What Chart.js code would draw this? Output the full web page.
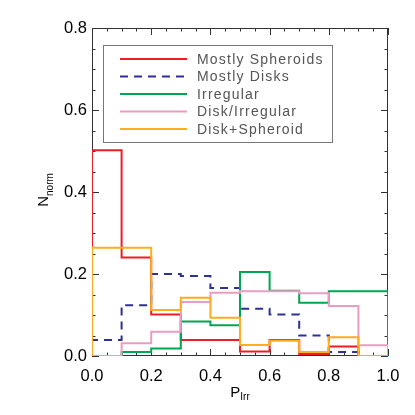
<!DOCTYPE html>
<html>
<head>
<meta charset="utf-8">
<script src="https://cdn.jsdelivr.net/npm/chart.js@4.4.0/dist/chart.umd.min.js"></script>
<style>
  html, body { margin: 0; padding: 0; background: #ffffff; }
  #wrap { width: 415px; height: 415px; }
</style>
</head>
<body>
<div id="wrap"><canvas id="c" width="415" height="415"></canvas></div>
<script>
// ---- data ----
const binEdges = [0.0, 0.1, 0.2, 0.3, 0.4, 0.5, 0.6, 0.7, 0.8, 0.9, 1.0];
const seriesNames = ['Mostly Spheroids', 'Mostly Disks', 'Irregular', 'Disk/Irregular', 'Disk+Spheroid'];
const mostlySpheroids = [0.502, 0.240, 0.101, 0.039, 0.039, 0.011, 0.039, 0.005, 0.023, 0.000];
const mostlyDisks     = [0.039, 0.124, 0.200, 0.195, 0.166, 0.115, 0.101, 0.050, 0.010, 0.000];
const irregular       = [0.000, 0.010, 0.018, 0.084, 0.075, 0.205, 0.159, 0.130, 0.158, 0.158];
const diskIrregular   = [0.000, 0.031, 0.059, 0.132, 0.154, 0.158, 0.158, 0.153, 0.122, 0.026];
const diskSpheroid    = [0.264, 0.264, 0.112, 0.142, 0.093, 0.027, 0.037, 0.010, 0.046, 0.000];
const xTickValues = [0.0, 0.2, 0.4, 0.6, 0.8, 1.0];
const yTickValues = [0.0, 0.2, 0.4, 0.6, 0.8];

const FONT = "'Liberation Sans', Arial, Helvetica, sans-serif";

// histogram outline: starts and ends at zero
function histPoints(vals) {
  const pts = [{ x: binEdges[0], y: 0 }];
  vals.forEach((v, i) => pts.push({ x: binEdges[i], y: v }));
  pts.push({ x: binEdges[binEdges.length - 1], y: vals[vals.length - 1] });
  pts.push({ x: binEdges[binEdges.length - 1], y: 0 });
  return pts;
}

const colors = ['#ee1c25', '#2e3192', '#00a651', '#ec9cc0', '#fdad1d'];
const seriesData = [mostlySpheroids, mostlyDisks, irregular, diskIrregular, diskSpheroid];
const dashes = [[], [8, 6], [], [], []];

const datasets = seriesData.map((vals, i) => ({
  label: seriesNames[i],
  data: histPoints(vals),
  borderColor: colors[i],
  borderWidth: 2,
  borderDash: dashes[i],
  stepped: 'before',
  pointRadius: 0,
  fill: false,
  order: seriesData.length - i
}));

const framePlugin = {
  id: 'frame',
  beforeDatasetsDraw(chart) {
    const { ctx, chartArea: a, scales } = chart;
    ctx.save();
    ctx.strokeStyle = '#333';
    ctx.lineWidth = 1;
    ctx.strokeRect(Math.round(a.left) + 0.5, Math.round(a.top) + 0.5,
                   Math.round(a.right - a.left) - 1, Math.round(a.bottom - a.top) - 1);
    ctx.beginPath();
    // x ticks every 0.05, major every 0.2
    for (let i = 0; i <= 20; i++) {
      const v = i * 0.05;
      const px = Math.round(scales.x.getPixelForValue(v)) + 0.5;
      const len = (i % 4 === 0) ? 7 : 3.5;
      ctx.moveTo(px, a.bottom); ctx.lineTo(px, a.bottom - len);
      ctx.moveTo(px, a.top); ctx.lineTo(px, a.top + len);
    }
    for (let i = 0; i <= 16; i++) {
      const v = i * 0.05;
      const py = Math.round(scales.y.getPixelForValue(v)) + 0.5;
      const len = (i % 4 === 0) ? 7 : 3.5;
      ctx.moveTo(a.left, py); ctx.lineTo(a.left + len, py);
      ctx.moveTo(a.right, py); ctx.lineTo(a.right - len, py);
    }
    ctx.stroke();

    // axis titles with subscripts
    ctx.fillStyle = '#000';
    ctx.textBaseline = 'alphabetic';
    // y title: N_norm rotated
    ctx.save();
    ctx.translate(48, (a.top + a.bottom) / 2 - 2);
    ctx.rotate(-Math.PI / 2);
    ctx.font = '15px ' + FONT;
    const wN = ctx.measureText('N').width;
    ctx.font = '10px ' + FONT;
    const wS = ctx.measureText('norm').width;
    const tot = wN + wS;
    ctx.font = '15px ' + FONT;
    ctx.textAlign = 'left';
    ctx.fillText('N', -tot / 2, 0);
    ctx.font = '10px ' + FONT;
    ctx.fillText('norm', -tot / 2 + wN, 4.5);
    ctx.restore();
    // x title: P_Irr
    ctx.save();
    ctx.font = '15px ' + FONT;
    const wP = ctx.measureText('P').width;
    ctx.font = '10px ' + FONT;
    const wI = ctx.measureText('Irr').width;
    const tx = (a.left + a.right) / 2 - (wP + wI) / 2;
    ctx.textAlign = 'left';
    ctx.font = '15px ' + FONT;
    ctx.fillText('P', tx, 397);
    ctx.font = '10px ' + FONT;
    ctx.fillText('Irr', tx + wP, 400);
    ctx.restore();
    ctx.restore();
  },
  afterDatasetsDraw(chart) {
    const { ctx } = chart;
    ctx.save();
    // legend box
    const bx = 103, by = 45, bw = 229, bh = 97;
    ctx.fillStyle = '#fff';
    ctx.fillRect(bx, by, bw, bh);
    ctx.strokeStyle = '#777';
    ctx.lineWidth = 1;
    ctx.strokeRect(bx + 0.5, by + 0.5, bw, bh);
    ctx.font = '14px ' + FONT;
    if ('letterSpacing' in ctx) ctx.letterSpacing = '1.2px';
    ctx.textBaseline = 'middle';
    ctx.textAlign = 'left';
    chart.data.datasets.forEach((ds, i) => {
      const y = 59 + i * 17.5;
      ctx.beginPath();
      ctx.strokeStyle = ds.borderColor;
      ctx.lineWidth = 2;
      ctx.setLineDash(ds.borderDash || []);
      ctx.moveTo(120, y);
      ctx.lineTo(187, y);
      ctx.stroke();
      ctx.setLineDash([]);
      ctx.fillStyle = '#555';
      ctx.fillText(ds.label, 197, y + 1);
    });
    ctx.restore();
  }
};

new Chart(document.getElementById('c'), {
  type: 'line',
  data: { datasets },
  options: {
    responsive: false,
    animation: false,
    events: [],
    layout: { padding: { left: 0, top: 28, right: 27, bottom: 0 } },
    plugins: { legend: { display: false }, tooltip: { enabled: false } },
    scales: {
      x: {
        type: 'linear', min: 0, max: 1,
        grid: { display: false, drawTicks: false },
        border: { display: false },
        afterBuildTicks: s => { s.ticks = xTickValues.map(v => ({ value: v })); },
        afterFit: s => { s.height = 59; },
        ticks: {
          padding: 11, color: '#000', font: { family: FONT, size: 16.5 },
          maxRotation: 0, autoSkip: false,
          callback: v => Number(v).toFixed(1)
        }
      },
      y: {
        type: 'linear', min: 0, max: 0.8,
        grid: { display: false, drawTicks: false },
        border: { display: false },
        afterBuildTicks: s => { s.ticks = yTickValues.map(v => ({ value: v })); },
        afterFit: s => { s.width = 92; },
        ticks: {
          padding: 5, color: '#000', font: { family: FONT, size: 16.5 },
          autoSkip: false,
          callback: v => Number(v).toFixed(1)
        }
      }
    }
  },
  plugins: [framePlugin]
});
</script>
</body>
</html>
